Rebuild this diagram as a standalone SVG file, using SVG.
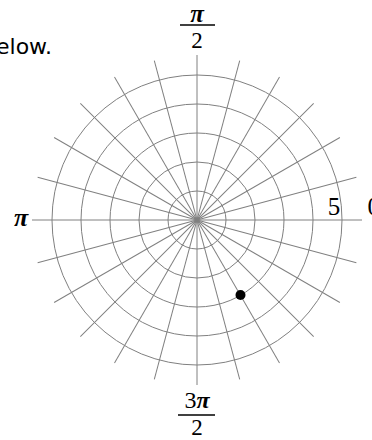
<svg xmlns="http://www.w3.org/2000/svg" width="372" height="440" viewBox="0 0 372 440">
<style>
.g{fill:none;stroke:#808080;stroke-width:1}
.m{font-family:"Liberation Serif",serif;fill:#000}
.pi{font-weight:bold;font-style:italic}
.bar{stroke:#000;stroke-width:1.6}
</style>
<rect width="372" height="440" fill="#fff"/>
<text x="-4" y="54" font-family="DejaVu Sans, sans-serif" font-size="22" fill="#000">elow.</text>
<g id="grid">
<circle class="g" cx="197" cy="220" r="29"/>
<circle class="g" cx="197" cy="220" r="58"/>
<circle class="g" cx="197" cy="220" r="87"/>
<circle class="g" cx="197" cy="220" r="116"/>
<circle class="g" cx="197" cy="220" r="145"/>
<g transform="translate(197 220)">
<line class="g" x1="-165" y1="0" x2="165" y2="0"/>
<line class="g" x1="-165" y1="0" x2="165" y2="0" transform="rotate(15)"/>
<line class="g" x1="-165" y1="0" x2="165" y2="0" transform="rotate(30)"/>
<line class="g" x1="-165" y1="0" x2="165" y2="0" transform="rotate(45)"/>
<line class="g" x1="-165" y1="0" x2="165" y2="0" transform="rotate(60)"/>
<line class="g" x1="-165" y1="0" x2="165" y2="0" transform="rotate(75)"/>
<line class="g" x1="-165" y1="0" x2="165" y2="0" transform="rotate(90)"/>
<line class="g" x1="-165" y1="0" x2="165" y2="0" transform="rotate(105)"/>
<line class="g" x1="-165" y1="0" x2="165" y2="0" transform="rotate(120)"/>
<line class="g" x1="-165" y1="0" x2="165" y2="0" transform="rotate(135)"/>
<line class="g" x1="-165" y1="0" x2="165" y2="0" transform="rotate(150)"/>
<line class="g" x1="-165" y1="0" x2="165" y2="0" transform="rotate(165)"/>
</g>
</g>
<g id="point">
<circle cx="240.5" cy="295" r="5" fill="#000"/>
</g>
<g id="labels">
<text class="m pi" x="197" y="22" font-size="25" text-anchor="middle">π</text>
<line class="bar" x1="180" y1="25" x2="215" y2="25"/>
<text class="m" x="197" y="48" font-size="23" text-anchor="middle">2</text>
<text class="m pi" x="21" y="226" font-size="26" text-anchor="middle">π</text>
<text class="m" x="334" y="215" font-size="25" text-anchor="middle">5</text>
<text class="m" x="367.5" y="215" font-size="25">0</text>
<text class="m" x="197" y="408" font-size="24" text-anchor="middle">3<tspan class="pi">π</tspan></text>
<line class="bar" x1="178" y1="415" x2="215" y2="415"/>
<text class="m" x="197" y="435" font-size="23" text-anchor="middle">2</text>
</g>
</svg>
